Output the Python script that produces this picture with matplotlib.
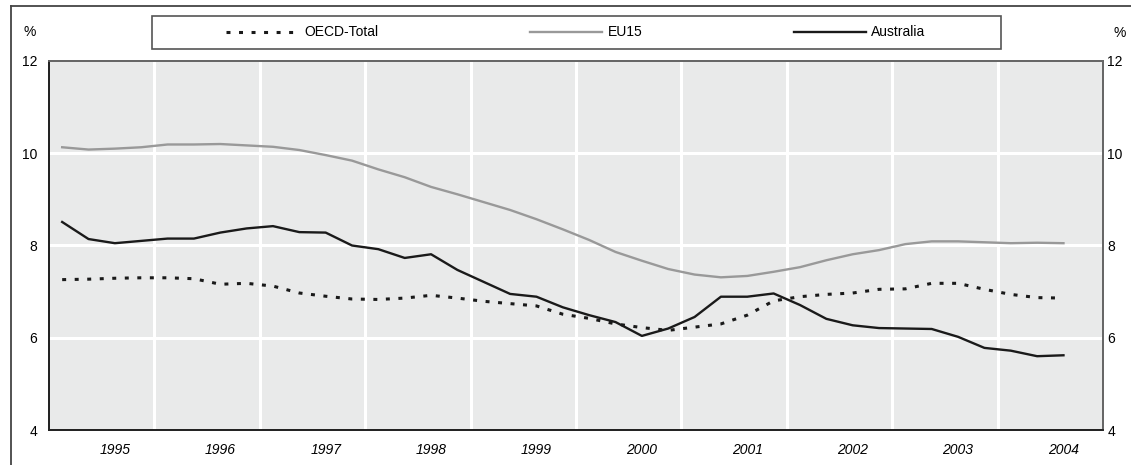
import matplotlib
matplotlib.use("Agg")
import matplotlib.pyplot as plt
import numpy as np
from matplotlib.lines import Line2D
from matplotlib.patches import Rectangle

# ── Data: quarterly unemployment rates (%) ────────────────────────────────────
years = ["1995", "1996", "1997", "1998", "1999",
         "2000", "2001", "2002", "2003", "2004"]

oecd_total = [7.26, 7.27, 7.29, 7.30, 7.30, 7.28, 7.16, 7.18, 7.12, 6.97,
              6.90, 6.84, 6.83, 6.86, 6.92, 6.86, 6.79, 6.74, 6.69, 6.51,
              6.42, 6.30, 6.22, 6.16, 6.23, 6.30, 6.49, 6.80, 6.89, 6.94,
              6.97, 7.05, 7.06, 7.18, 7.18, 7.05, 6.94, 6.87, 6.86]

eu15 = [10.13, 10.08, 10.10, 10.13, 10.19, 10.19, 10.20, 10.17, 10.14, 10.07,
        9.96, 9.84, 9.65, 9.48, 9.27, 9.11, 8.94, 8.77, 8.57, 8.35,
        8.12, 7.86, 7.67, 7.49, 7.37, 7.31, 7.34, 7.43, 7.53, 7.68,
        7.81, 7.90, 8.03, 8.09, 8.09, 8.07, 8.05, 8.06, 8.05]

australia = [8.51, 8.14, 8.05, 8.10, 8.15, 8.15, 8.28, 8.37, 8.42, 8.29,
             8.28, 8.00, 7.92, 7.73, 7.81, 7.47, 7.21, 6.95, 6.89, 6.66,
             6.49, 6.34, 6.04, 6.20, 6.45, 6.89, 6.89, 6.96, 6.71, 6.41,
             6.27, 6.21, 6.20, 6.19, 6.02, 5.78, 5.72, 5.60, 5.62]

y_ticks = [4, 6, 8, 10, 12]

FS = 10
plt.rcParams.update({"font.family": ["Liberation Sans", "DejaVu Sans"],
                     "font.size": FS})

W, H = 1131, 465
fig = plt.figure(figsize=(W / 100, H / 100), dpi=100)
ax = fig.add_axes([49 / W, 1 - 430 / H, (1103 - 49) / W, (430 - 61) / H])

x = np.arange(len(eu15))
ax.set_facecolor("#e9eaea")

# white grid
for k in range(1, len(years)):
    ax.axvline(4 * k - 0.5, color="white", lw=2.2, zorder=1)
for v in y_ticks[1:-1]:
    ax.axhline(v, color="white", lw=2.2, zorder=1)

l_oecd, = ax.plot(x, oecd_total, color="#1a1a1a", lw=2.2,
                  linestyle=(0, (1.3, 2.8)), dash_capstyle="butt", zorder=3)
l_eu, = ax.plot(x, eu15, color="#999999", lw=1.7, zorder=3)
l_aus, = ax.plot(x, australia, color="#1a1a1a", lw=1.7, zorder=4)

ax.set_xlim(-0.5, 39.5)
ax.set_ylim(4, 12)
ax.set_yticks(y_ticks)
ax.set_xticks([2 + 4 * i for i in range(len(years))])
ax.set_xticklabels(years, style="italic")
ax.tick_params(axis="x", length=0, pad=9)
ax.tick_params(axis="y", length=0, pad=8.5)

# right-hand scale
ax_r = ax.twinx()
ax_r.set_ylim(ax.get_ylim())
ax_r.set_yticks(y_ticks)
ax_r.tick_params(axis="y", length=0, pad=3)

for a in (ax, ax_r):
    for side in ["left", "bottom"]:
        a.spines[side].set_color("#222222")
        a.spines[side].set_linewidth(1.3)
    for side in ["top", "right"]:
        a.spines[side].set_color("#666666")
        a.spines[side].set_linewidth(1.3)

fig.text(23 / W, 1 - 32 / H, "%", va="center", ha="left")
fig.text(1114 / W, 1 - 33 / H, "%", va="center", ha="left")

# outer frame (top and left only visible)
fig.add_artist(Line2D([11 / W, 1], [1 - 6 / H, 1 - 6 / H],
                      transform=fig.transFigure, color="#444444", lw=1.3))
fig.add_artist(Line2D([11 / W, 11 / W], [0, 1 - 6 / H],
                      transform=fig.transFigure, color="#444444", lw=1.3))

# legend box
fig.add_artist(Rectangle((152 / W, 1 - 49 / H), (1001 - 152) / W, 33 / H,
                         transform=fig.transFigure, facecolor="white",
                         edgecolor="#555555", lw=1.2))
fig.legend([l_oecd, l_eu, l_aus], ["OECD-Total", "EU15", "Australia"],
           ncol=3, loc="center", bbox_to_anchor=(576 / W, 1 - 32.5 / H),
           frameon=False, fontsize=FS, handlelength=5.2,
           handletextpad=0.4, columnspacing=10.9)

fig.savefig("out.png", dpi=100)
